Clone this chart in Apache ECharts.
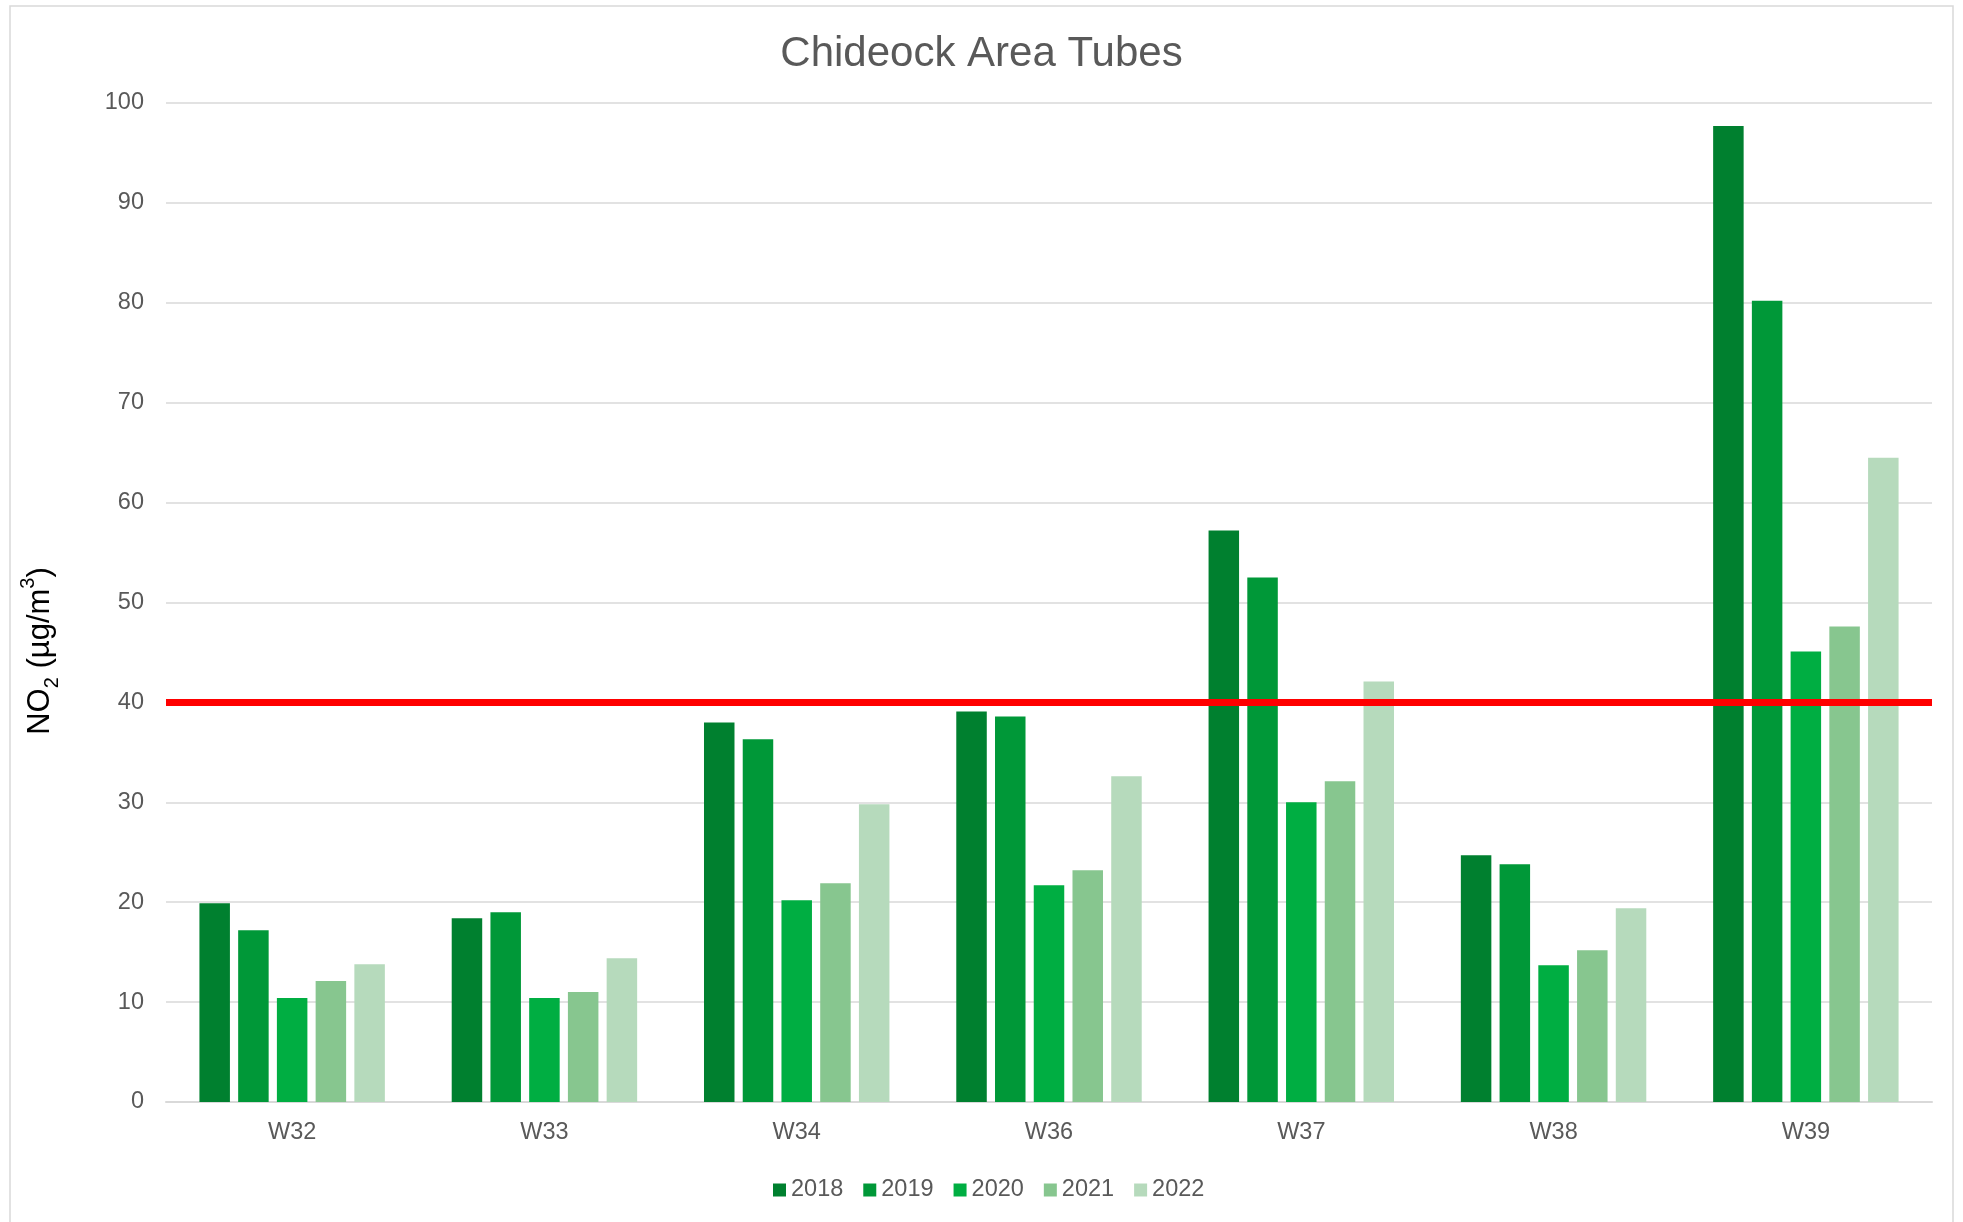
<!DOCTYPE html>
<html>
<head>
<meta charset="utf-8">
<script src="https://cdn.jsdelivr.net/npm/echarts@6/dist/echarts.min.js"></script>
<style>
html,body{margin:0;padding:0;background:#fff;}
#chart{width:1963px;height:1222px;}
</style>
</head>
<body>
<div id="chart"></div>
<script>
const categories = ['W32', 'W33', 'W34', 'W36', 'W37', 'W38', 'W39'];
const seriesNames = ['2018', '2019', '2020', '2021', '2022'];
const v2018 = [19.9, 18.4, 38.0, 39.1, 57.2, 24.7, 97.7];
const v2019 = [17.2, 19.0, 36.3, 38.6, 52.5, 23.8, 80.2];
const v2020 = [10.4, 10.4, 20.2, 21.7, 30.0, 13.7, 45.1];
const v2021 = [12.1, 11.0, 21.9, 23.2, 32.1, 15.2, 47.6];
const v2022 = [13.8, 14.4, 29.8, 32.6, 42.1, 19.4, 64.5];
const limitValue = 40;
const colors = ['#00802F', '#009838', '#00AE42', '#87C68F', '#B6DABC'];

const values = [v2018, v2019, v2020, v2021, v2022];
const chart = echarts.init(document.getElementById('chart'));
const font = '"Liberation Sans", Arial, sans-serif';

const series = seriesNames.map((name, i) => {
  const s = {
    name: name,
    type: 'bar',
    data: values[i],
    barWidth: 30.5,
    barGap: '27%',
    itemStyle: { color: colors[i] }
  };
  if (i === seriesNames.length - 1) {
    s.markLine = {
      silent: true,
      symbol: 'none',
      label: { show: false },
      lineStyle: { color: '#FF0000', width: 7, type: 'solid' },
      data: [{ yAxis: limitValue }],
      z: 10
    };
  }
  return s;
});

chart.setOption({
  animation: false,
  backgroundColor: '#ffffff',
  textStyle: { fontFamily: font },
  title: {
    text: 'Chideock Area Tubes',
    left: 'center',
    top: 28,
    textStyle: { fontFamily: font, fontSize: 42, fontWeight: 'normal', color: '#595959' }
  },
  graphic: [{
    type: 'rect',
    shape: { x: 10, y: 6, width: 1943, height: 1240 },
    style: { fill: 'none', stroke: '#D9D9D9', lineWidth: 1.5 },
    silent: true
  }, {
    type: 'text',
    x: 40,
    y: 651,
    rotation: Math.PI / 2,
    silent: true,
    style: {
      text: '{n|NO}{s|2}{n| (µg/m}{p|3}{n|)}',
      align: 'center',
      verticalAlign: 'middle',
      rich: {
        n: { fontSize: 31, fill: '#000000', fontFamily: font, lineHeight: 44, verticalAlign: 'middle' },
        s: { fontSize: 20, fill: '#000000', fontFamily: font, lineHeight: 26, verticalAlign: 'bottom' },
        p: { fontSize: 20, fill: '#000000', fontFamily: font, lineHeight: 26, verticalAlign: 'top' }
      }
    }
  }],
  legend: {
    bottom: 15,
    left: 768,
    itemWidth: 13,
    itemHeight: 13,
    itemGap: 20,
    icon: 'rect',
    textStyle: { fontFamily: font, fontSize: 23.5, color: '#595959' },
    data: seriesNames
  },
  grid: { left: 166, right: 31, top: 103, bottom: 120 },
  xAxis: {
    type: 'category',
    data: categories,
    axisTick: { show: false },
    axisLine: { lineStyle: { color: '#D9D9D9', width: 2 } },
    axisLabel: { color: '#595959', fontSize: 23.5, margin: 18.5, fontFamily: font }
  },
  yAxis: {
    type: 'value',
    min: 0,
    max: 100,
    interval: 10,
    axisLine: { show: false },
    axisTick: { show: false },
    splitLine: { lineStyle: { color: '#D9D9D9', width: 1.5 } },
    axisLabel: { color: '#595959', fontSize: 23.5, margin: 22, fontFamily: font }
  },
  series: series
});
</script>
</body>
</html>
